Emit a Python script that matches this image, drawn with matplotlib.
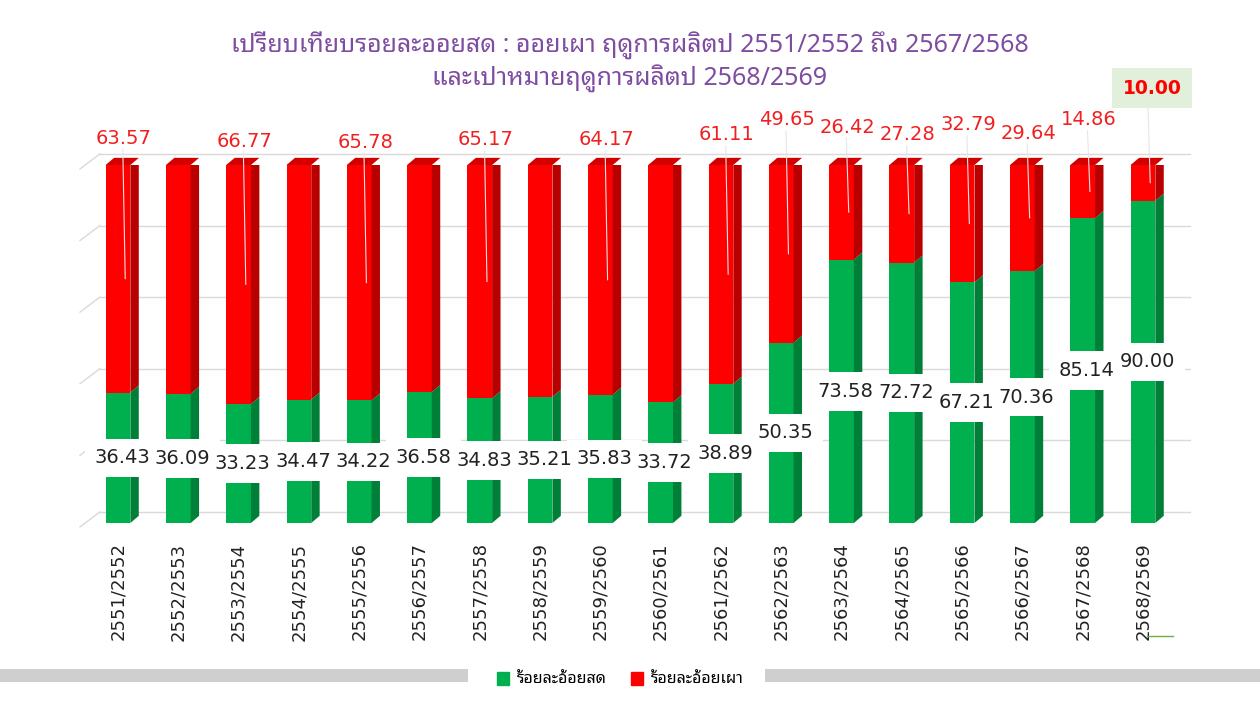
import matplotlib
matplotlib.use("Agg")
import matplotlib.pyplot as plt
import numpy as np
from matplotlib.patches import Polygon, Rectangle, Patch
from matplotlib.lines import Line2D

# ฤดูการผลิต (crop seasons)
seasons = [
    "2551/2552", "2552/2553", "2553/2554", "2554/2555", "2555/2556", "2556/2557",
    "2557/2558", "2558/2559", "2559/2560", "2560/2561", "2561/2562", "2562/2563",
    "2563/2564", "2564/2565", "2565/2566", "2566/2567", "2567/2568", "2568/2569",
]
# ร้อยละอ้อยสด (fresh cane, %)
fresh = [36.43, 36.09, 33.23, 34.47, 34.22, 36.58, 34.83, 35.21, 35.83, 33.72,
         38.89, 50.35, 73.58, 72.72, 67.21, 70.36, 85.14, 90.00]
# ร้อยละอ้อยเผา (burnt cane, %)
burnt = [63.57, 63.91, 66.77, 65.53, 65.78, 63.42, 65.17, 64.79, 64.17, 66.28,
         61.11, 49.65, 26.42, 27.28, 32.79, 29.64, 14.86, 10.00]
# which burnt values carry a label in the original chart
burnt_labelled = [True, False, True, False, True, False, True, False, True, False,
                  True, True, True, True, True, True, True, True]

THAI = ["Noto Sans Thai Looped", "DejaVu Sans"]
GREEN, GREEN_SIDE = "#00B04F", "#007F39"
RED, RED_SIDE, RED_TOP = "#FF0000", "#B80000", "#D40000"
GRID = "#D9D9D9"

W, H = 1260, 702
fig = plt.figure(figsize=(W / 100, H / 100), dpi=100)
ax = fig.add_axes([80 / W, 1 - 523 / H, 1110 / W, 358 / H])
ax.set_xlim(-0.63, 17.78)
ax.set_ylim(0, 100)

x = np.arange(len(seasons))
fresh = np.array(fresh)
burnt = np.array(burnt)
width = 0.41
dx, dy = 0.14, 2.0  # depth of the fake 3d

# back wall gridlines
for v in range(0, 101, 20):
    gy = v + 3.1
    ax.plot([-0.63, -0.30], [gy - 4.2, gy], color=GRID, lw=1, clip_on=False, zorder=0)
    ax.plot([-0.30, 17.78], [gy, gy], color=GRID, lw=1, clip_on=False, zorder=0)

ax.bar(x, fresh, width=width, color=GREEN, zorder=2)
ax.bar(x, burnt, bottom=fresh, width=width, color=RED, zorder=2)

for xi, g, r in zip(x, fresh, burnt):
    xl, xr = xi - width / 2, xi + width / 2
    top = g + r
    ax.add_patch(Polygon([(xr, 0), (xr + dx, dy), (xr + dx, g + dy), (xr, g)],
                         closed=True, color=GREEN_SIDE, zorder=2, lw=0))
    ax.add_patch(Polygon([(xr, g), (xr + dx, g + dy), (xr + dx, top + dy), (xr, top)],
                         closed=True, color=RED_SIDE, zorder=2, lw=0))
    ax.add_patch(Polygon([(xl, top), (xl + dx, top + dy), (xr + dx, top + dy), (xr, top)],
                         closed=True, color=RED_TOP, zorder=2, lw=0, clip_on=False))

# fresh labels, centred in the green part, on white boxes (boxes first, text on top)
for xi, g in zip(x, fresh):
    ax.text(xi + 0.07, g / 2, f"{g:.2f}", ha="center", va="center", fontsize=14,
            color="white", alpha=0, zorder=4,
            bbox=dict(boxstyle="square,pad=0.5", fc="white", ec="none"))
for xi, g in zip(x, fresh):
    ax.text(xi + 0.07, g / 2, f"{g:.2f}", ha="center", va="center", fontsize=14,
            color="#222222", zorder=5)

# burnt labels with leader lines
label_y = [107.5, 0, 106.7, 0, 106.4, 0, 107.0, 0, 107.0, 0,
           108.4, 112.6, 110.6, 108.4, 111.2, 108.9, 112.6, 121.5]
for i, (xi, g, r) in enumerate(zip(x, fresh, burnt)):
    if not burnt_labelled[i]:
        continue
    ly = label_y[i]
    last = i == len(x) - 1
    ax.annotate("", xy=(xi + 0.12, g + r / 2), xytext=(xi + 0.08, ly - 3.0),
                arrowprops=dict(arrowstyle="-", color="#E6E6E6", lw=0.8,
                                shrinkA=0, shrinkB=0),
                zorder=3, annotation_clip=False)
    if last:
        ax.text(xi + 0.15, ly, f"{r:.2f}", ha="center", va="center", fontsize=13.5,
                color=RED, fontweight="bold", zorder=5, clip_on=False,
                bbox=dict(boxstyle="square,pad=0.55", fc="#E2EFDA", ec="none"))
    else:
        ax.text(xi + 0.1, ly, f"{r:.2f}", ha="center", va="center", fontsize=14,
                color="#F02020", zorder=5, clip_on=False)

ax.set_xticks(x)
ax.set_xticklabels(seasons, rotation=90, fontsize=13, color="#222222")
ax.tick_params(axis="x", length=0, pad=14)
ax.set_yticks([])
for s in ax.spines.values():
    s.set_visible(False)

# title
purple = "#7E4CA0"
fig.text(0.5, 1 - 45 / H, "เปรียบเทียบรอยละออยสด : ออยเผา ฤดูการผลิตป 2551/2552 ถึง 2567/2568",
         ha="center", va="center", fontsize=18, color=purple, family=THAI, fontweight="semibold")
fig.text(0.5, 1 - 78 / H, "และเปาหมายฤดูการผลิตป 2568/2569",
         ha="center", va="center", fontsize=18, color=purple, family=THAI, fontweight="semibold")

# grey bands at the bottom
fig.patches.append(Rectangle((0, 1 - 682 / H), 468 / W, 13 / H, transform=fig.transFigure,
                             color="#CFCFCF", lw=0))
fig.patches.append(Rectangle((765 / W, 1 - 682 / H), (W - 765) / W, 13 / H,
                             transform=fig.transFigure, color="#CFCFCF", lw=0))
# small green leftover mark near the bottom right
fig.lines.append(Line2D([1147 / W, 1173 / W], [1 - 636 / H, 1 - 636 / H],
                        transform=fig.transFigure, color="#70AD47", lw=1))

handles = [Patch(color=GREEN, label="ร้อยละอ้อยสด"), Patch(color=RED, label="ร้อยละอ้อยเผา")]
fig.legend(handles=handles, loc="center", bbox_to_anchor=(620 / W, 1 - 680 / H), ncol=2,
           frameon=False, handlelength=0.75, handleheight=0.9, handletextpad=0.5,
           columnspacing=1.5, prop=dict(family=THAI, size=11.5))

fig.savefig("out.png", dpi=100, facecolor="white")
